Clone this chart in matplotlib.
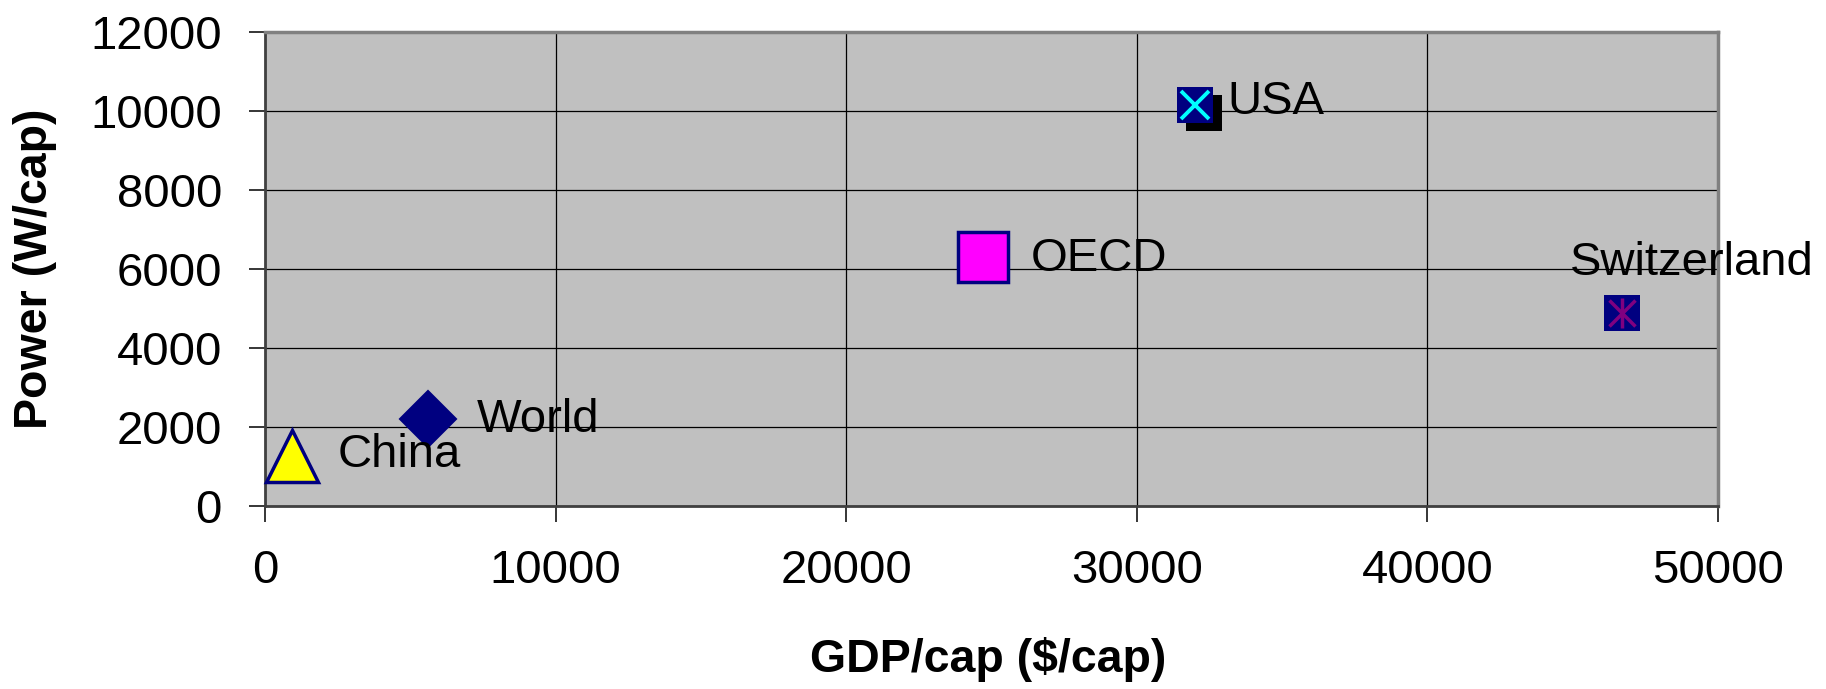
import numpy as np
import matplotlib
matplotlib.use('Agg')
import matplotlib.pyplot as plt

plt.rcParams['font.family'] = ['Liberation Sans', 'DejaVu Sans']

# GDP per capita vs. power use per capita
countries = ['China', 'World', 'OECD', 'USA', 'Switzerland']
gdp_per_cap = [920, 5600, 24700, 32000, 46700]       # $/cap
power_per_cap = [1270, 2200, 6300, 10150, 4890]      # W/cap

# second USA estimate (black square, unlabelled)
usa_alt_gdp = [32300]
usa_alt_power = [9950]

x_ticks = [0, 10000, 20000, 30000, 40000, 50000]
y_ticks = [0, 2000, 4000, 6000, 8000, 10000, 12000]

NAVY = '#000080'

fig = plt.figure(figsize=(18.26, 6.89), dpi=100)
ax = fig.add_axes([265 / 1826, 1 - 506 / 689, 1453 / 1826, 474 / 689])
ax.set_facecolor('#C0C0C0')

ax.set_xlim(x_ticks[0], x_ticks[-1])
ax.set_ylim(y_ticks[0], y_ticks[-1])
ax.set_xticks(x_ticks)
ax.set_yticks(y_ticks)
ax.grid(True, color='black', linewidth=0.9)
ax.set_axisbelow(True)

ax.tick_params(axis='both', direction='out', length=11.5, width=1.1,
               pad=19.5, labelsize=34, colors='black')

for side in ['top', 'right']:
    ax.spines[side].set_color('#808080')
    ax.spines[side].set_linewidth(2.5)
for side in ['left', 'bottom']:
    ax.spines[side].set_color('#404040')
    ax.spines[side].set_linewidth(2.0)

pts = dict(zip(countries, zip(gdp_per_cap, power_per_cap)))

# China - yellow triangle
x, y = pts['China']
ax.plot(x, y, marker='^', ms=37, mfc='yellow', mec=NAVY, mew=2.5,
        ls='none', clip_on=False, zorder=3)
# World - navy diamond
x, y = pts['World']
ax.plot(x, y, marker='D', ms=29, mfc=NAVY, mec=NAVY, mew=1.5,
        ls='none', clip_on=False, zorder=3)
# OECD - magenta square
x, y = pts['OECD']
ax.plot(x, y, marker='s', ms=36, mfc='#FF00FF', mec=NAVY, mew=2.5,
        ls='none', clip_on=False, zorder=3)
# USA - black square under the x marker
ax.plot(usa_alt_gdp, usa_alt_power, marker='s', ms=26, mfc='black', mew=0,
        ls='none', clip_on=False, zorder=3)
x, y = pts['USA']
ax.plot(x, y, marker='s', ms=26, mfc=NAVY, mew=0,
        ls='none', clip_on=False, zorder=4)
ax.plot(x, y, marker='x', ms=19.5, mec='#00FFFF', mew=2.8,
        ls='none', clip_on=False, zorder=5)
# Switzerland - star on navy square
x, y = pts['Switzerland']
ax.plot(x, y, marker='s', ms=26, mfc=NAVY, mew=0,
        ls='none', clip_on=False, zorder=4)
ax.plot(x, y, marker='x', ms=19, mec='#800080', mew=2.5,
        ls='none', clip_on=False, zorder=5)
ax.plot(x, y, marker='|', ms=22, mec='#800080', mew=2.5,
        ls='none', clip_on=False, zorder=5)

# data labels, offsets in points
label_offsets = {
    'China': (33, -8.3),
    'World': (35.6, -9),
    'OECD': (34.2, -9.7),
    'USA': (23.5, -6.5),
    'Switzerland': (-37.4, 27.4),
}
for name in countries:
    ax.annotate(name, xy=pts[name], xytext=label_offsets[name],
                textcoords='offset points', ha='left', va='baseline',
                fontsize=34, color='black', annotation_clip=False, zorder=6)

ax.set_xlabel('GDP/cap ($/cap)', fontsize=33.5, fontweight='bold', va='baseline')
ax.xaxis.set_label_coords(0.4976, -0.350)
ax.set_ylabel('Power (W/cap)', fontsize=33.5, fontweight='bold',
              rotation=90, rotation_mode='anchor', ha='center', va='baseline')
ax.yaxis.set_label_coords(-0.150, 0.50)

fig.savefig('out.png', dpi=100)
